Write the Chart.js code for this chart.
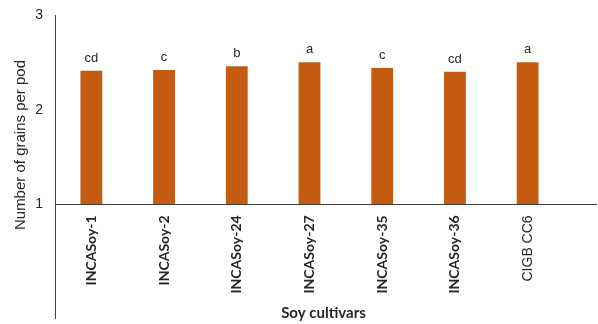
<!DOCTYPE html>
<html>
<head>
<meta charset="utf-8">
<script src="https://cdn.jsdelivr.net/npm/chart.js@4/dist/chart.umd.min.js"></script>
<style>
  html, body { margin: 0; padding: 0; background: #ffffff; }
  #wrap { width: 598px; height: 324px; position: relative; }
</style>
</head>
<body>
<div id="wrap"><canvas id="chart"></canvas></div>
<script>
// Soy cultivars and their mean number of grains per pod
const cultivars = ['INCASoy-1', 'INCASoy-2', 'INCASoy-24', 'INCASoy-27', 'INCASoy-35', 'INCASoy-36', 'CIGB CC6'];
const grainsPerPod = [2.41, 2.42, 2.46, 2.50, 2.44, 2.40, 2.50];
const significance = ['cd', 'c', 'b', 'a', 'c', 'cd', 'a'];
const yTickValues = [1, 2, 3];

const BAR_COLOR = '#C55A11';
const AXIS_COLOR = '#404040';
const TEXT_COLOR = '#262626';

// Letters of significance above each bar, the baseline at 1, and axis titles
const annotate = {
  id: 'annotate',
  afterDatasetsDraw(chart) {
    const { ctx, chartArea, scales } = chart;
    const meta = chart.getDatasetMeta(0);
    ctx.save();
    ctx.fillStyle = TEXT_COLOR;
    ctx.font = '13px "Liberation Sans", Arial, sans-serif';
    ctx.textAlign = 'center';
    ctx.textBaseline = 'alphabetic';
    meta.data.forEach((bar, i) => {
      ctx.fillText(significance[i], bar.x, bar.y - 9);
    });

    // category axis line crossing at y = 1
    const y1 = Math.round(scales.y.getPixelForValue(1)) + 0.5;
    ctx.strokeStyle = AXIS_COLOR;
    ctx.lineWidth = 1;
    ctx.beginPath();
    ctx.moveTo(chartArea.left, y1);
    ctx.lineTo(chart.width - 1, y1);
    ctx.stroke();

    // y axis title
    ctx.save();
    ctx.translate(chartArea.left - 34, 145);
    ctx.rotate(-Math.PI / 2);
    ctx.font = '15px "Liberation Sans", Arial, sans-serif';
    ctx.textBaseline = 'middle';
    ctx.fillStyle = TEXT_COLOR;
    ctx.fillText('Number of grains per pod', 0, 0);
    ctx.restore();

    // x axis title
    ctx.font = 'bold 15px Lato, "Open Sans", sans-serif';
    ctx.textBaseline = 'middle';
    ctx.fillText('Soy cultivars', (chartArea.left + chartArea.right) / 2 + 14, 313);
    ctx.restore();
  }
};

const noPad = (scale) => {
  scale.paddingTop = 0;
  scale.paddingBottom = 0;
};

new Chart(document.getElementById('chart'), {
  type: 'bar',
  data: {
    labels: cultivars,
    datasets: [{
      data: grainsPerPod,
      base: 1,
      backgroundColor: BAR_COLOR,
      borderWidth: 0,
      barPercentage: 0.3,
      categoryPercentage: 1.0
    }]
  },
  options: {
    responsive: true,
    maintainAspectRatio: false,
    animation: false,
    devicePixelRatio: 1,
    layout: { padding: { left: 0, right: 34, top: 15, bottom: 6 } },
    plugins: {
      legend: { display: false },
      tooltip: { enabled: false }
    },
    scales: {
      x: {
        position: { y: 1 },
        grid: { display: false, drawTicks: false },
        border: { display: false },
        afterFit: (scale) => {
          scale.paddingTop = 0;
          scale.paddingBottom = 0;
          scale.paddingLeft = 0;
          scale.paddingRight = 0;
        },
        ticks: {
          minRotation: 90,
          maxRotation: 90,
          padding: 11,
          autoSkip: false,
          color: TEXT_COLOR,
          font: (ctx) => ctx.index === cultivars.length - 1
            ? { family: '"Liberation Sans", Arial, sans-serif', size: 14, weight: 'normal' }
            : { family: 'Lato, "Open Sans", sans-serif', size: 14, weight: 'bold' }
        }
      },
      y: {
        min: -0.2,
        max: 3,
        grid: { display: false, drawTicks: false },
        border: { display: true, color: AXIS_COLOR, width: 1 },
        afterBuildTicks: (scale) => {
          scale.ticks = yTickValues.map(v => ({ value: v }));
        },
        afterFit: (scale) => { scale.width = 55; noPad(scale); },
        ticks: {
          padding: 12,
          color: TEXT_COLOR,
          font: { family: '"Liberation Sans", Arial, sans-serif', size: 14 }
        }
      }
    }
  },
  plugins: [annotate]
});
</script>
</body>
</html>
